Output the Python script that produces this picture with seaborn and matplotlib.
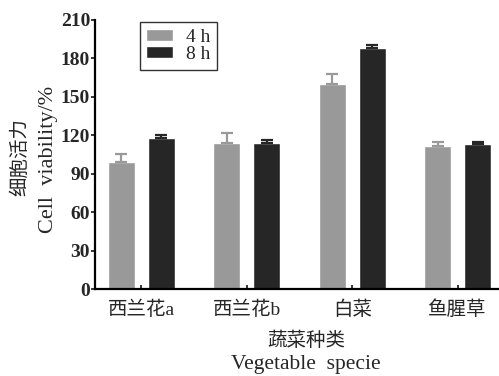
import pandas as pd
import matplotlib
matplotlib.use('Agg')
import matplotlib.pyplot as plt
import seaborn as sns

# 数据
categories = ['西兰花a', '西兰花b', '白菜', '鱼腥草']
times = ['4 h', '8 h']
viability_4h = [99, 114, 160, 112]
viability_8h = [118, 114, 188, 113]
err_4h = [6, 8, 8, 2.5]
err_8h = [2.5, 2.5, 2.5, 2]
y_ticks = [0, 30, 60, 90, 120, 150, 180, 210]

colors = {'4 h': '#999999', '8 h': '#262626'}

sns.set_style('white')
plt.rcParams['font.family'] = ['Liberation Serif', 'Noto Sans CJK SC', 'DejaVu Sans']

df = pd.DataFrame({
    'category': categories * 2,
    'time': [times[0]] * len(categories) + [times[1]] * len(categories),
    'value': viability_4h + viability_8h,
    'err': err_4h + err_8h,
})

W, H = 499, 376
fig = plt.figure(figsize=(W / 100, H / 100), dpi=100)
ax = fig.add_axes([95 / W, 87 / H, 409 / W, 269 / H])

sns.barplot(data=df, x='category', y='value', hue='time', order=categories,
            hue_order=times, palette=colors, width=0.76, gap=0.33,
            errorbar=None, saturation=1, ax=ax, legend=True)

# 误差线（仅向上）
for container, t in zip(ax.containers, times):
    sub = df[df['time'] == t].set_index('category').loc[categories]
    for bar, e in zip(container, sub['err']):
        xc = bar.get_x() + bar.get_width() / 2
        h = bar.get_height()
        ax.errorbar(xc, h, yerr=[[0], [e]], fmt='none', ecolor=colors[t],
                    elinewidth=1.6, capsize=4.5, capthick=1.6)

ax.set_xlim(-0.44, 3.44)
ax.set_ylim(0, 210)
ax.set_yticks(y_ticks)
ax.set_yticklabels([str(v) for v in y_ticks], fontweight='bold', fontsize=14)
ax.set_xticks(range(len(categories)))
ax.set_xticklabels(categories, fontsize=14)

sns.despine(ax=ax)
for s in ['left', 'bottom']:
    ax.spines[s].set_linewidth(1.6)
    ax.spines[s].set_color('black')
ax.tick_params(axis='y', direction='out', length=3, width=1.3, pad=0.5, left=True)
ax.tick_params(axis='x', direction='in', length=3, width=1.3, pad=8, bottom=True)

ax.set_xlabel('')
ax.set_ylabel('')

# 坐标轴标题（中英文分开设置字号）
fig.text(20.5 / W, 1 - 157 / H, '细胞活力', rotation=90, fontsize=14,
         ha='center', va='center')
fig.text(48.5 / W, 1 - 159 / H, 'Cell  viability/%', rotation=90, fontsize=16,
         ha='center', va='center')
fig.text(306 / W, 1 - 341 / H, '蔬菜种类', fontsize=14, ha='center', va='center')
fig.text(306 / W, 1 - 355 / H, 'Vegetable  specie', fontsize=15.5,
         ha='center', va='top')

leg = ax.legend(loc='upper left', bbox_to_anchor=(0.109, 0.993), fontsize=14,
                frameon=True, fancybox=False, handlelength=1.35, handleheight=0.6,
                labelspacing=0.0, borderpad=0.35, handletextpad=0.7,
                borderaxespad=0, title=None)
leg.get_frame().set_edgecolor('black')
leg.get_frame().set_linewidth(1.0)

plt.savefig('out.png', dpi=100)
